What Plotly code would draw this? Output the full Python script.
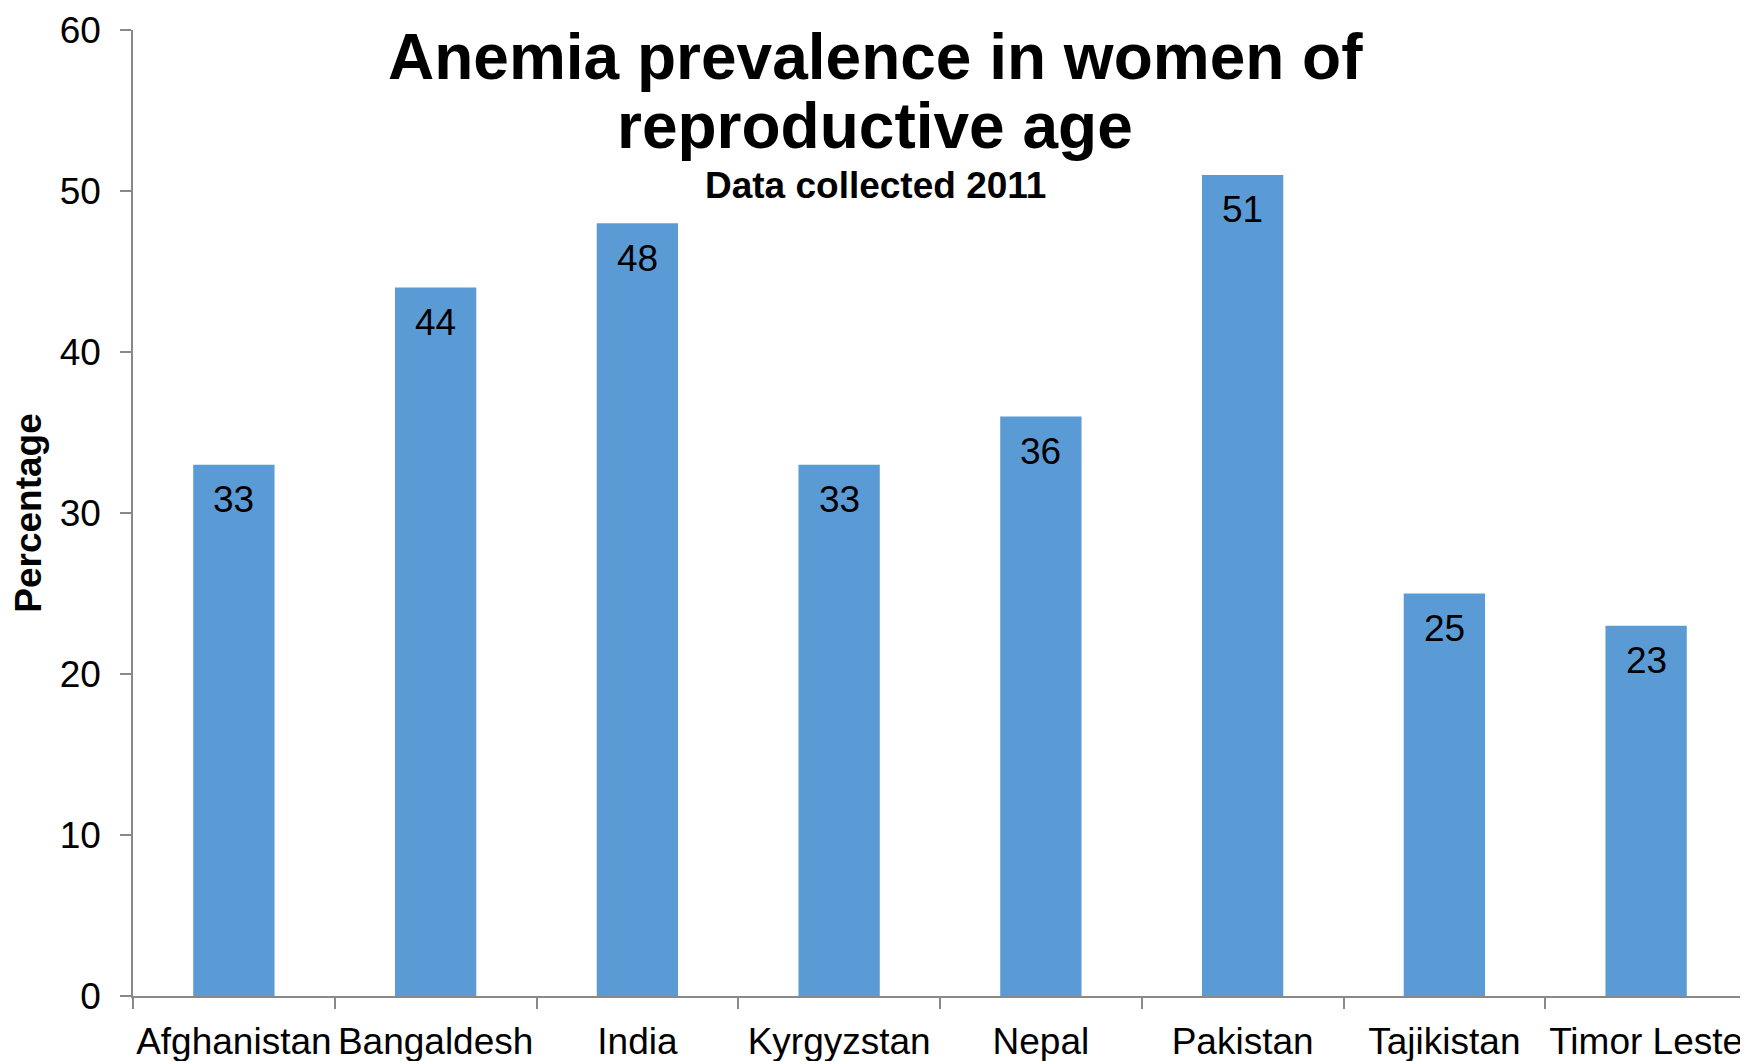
import plotly.graph_objects as go

categories = ["Afghanistan", "Bangaldesh", "India", "Kyrgyzstan", "Nepal", "Pakistan", "Tajikistan", "Timor Leste"]
values = [33, 44, 48, 33, 36, 51, 25, 23]
y_ticks = [0, 10, 20, 30, 40, 50, 60]

title_line1 = "Anemia prevalence in women of"
title_line2 = "reproductive age"
subtitle = "Data collected 2011"

FONT = "Liberation Sans, Arial, sans-serif"
AXIS_COLOR = "#898989"
BAR_COLOR = "#5B9BD5"

fig = go.Figure(
    go.Bar(
        x=categories,
        y=values,
        marker=dict(color=BAR_COLOR, line=dict(width=0)),
        hoverinfo="skip",
    )
)

# page body has an 8px offset; target plot area (page px): x 133..1747, y 30..996
OFF = 8
W, H = 1740, 1053
L, R, T, B = 125, 1, 22, 65
plot_h = H - T - B
plot_w = W - L - R


def py(page_px):
    return (H - B - (page_px - OFF)) / plot_h


annotations = []
for c, v in zip(categories, values):
    annotations.append(dict(
        x=c, y=v, xref="x", yref="y", text=str(v), showarrow=False,
        yanchor="middle", xanchor="center", yshift=-35,
        font=dict(family=FONT, size=37, color="black"),
    ))

title_x = (875 - OFF - L) / plot_w
annotations += [
    dict(x=title_x, y=py(57), xref="paper", yref="paper", text="<b>" + title_line1 + "</b>",
         showarrow=False, xanchor="center", yanchor="middle",
         font=dict(family=FONT, size=64, color="black")),
    dict(x=title_x, y=py(126), xref="paper", yref="paper", text="<b>" + title_line2 + "</b>",
         showarrow=False, xanchor="center", yanchor="middle",
         font=dict(family=FONT, size=64, color="black")),
    dict(x=title_x, y=py(186), xref="paper", yref="paper", text="<b>" + subtitle + "</b>",
         showarrow=False, xanchor="center", yanchor="middle",
         font=dict(family=FONT, size=37, color="black")),
]

fig.update_layout(
    width=W,
    height=H,
    margin=dict(l=L, r=R, t=T, b=B, pad=0),
    bargap=0.597,
    plot_bgcolor="white",
    paper_bgcolor="white",
    showlegend=False,
    font=dict(family=FONT, size=37, color="black"),
    annotations=annotations,
    xaxis=dict(
        automargin=False,
        showline=True, linecolor=AXIS_COLOR, linewidth=1.5,
        ticks="outside", tickson="boundaries", ticklen=11, tickcolor=AXIS_COLOR, tickwidth=1.5,
        tickangle=0, showgrid=False, zeroline=False,
        tickfont=dict(family=FONT, size=37, color="black"),
        ticklabelstandoff=12,
    ),
    yaxis=dict(
        automargin=False,
        range=[0, 60], tickvals=y_ticks, ticktext=[str(t) for t in y_ticks],
        showline=True, linecolor=AXIS_COLOR, linewidth=1.5,
        ticks="outside", ticklen=11, tickcolor=AXIS_COLOR, tickwidth=1.5,
        showgrid=False, zeroline=False,
        tickfont=dict(family=FONT, size=37, color="black"),
        ticklabelstandoff=12,
        title=dict(text="<b>Percentage</b>", font=dict(family=FONT, size=37, color="black"), standoff=8),
    ),
)

fig.write_html("out.html")
